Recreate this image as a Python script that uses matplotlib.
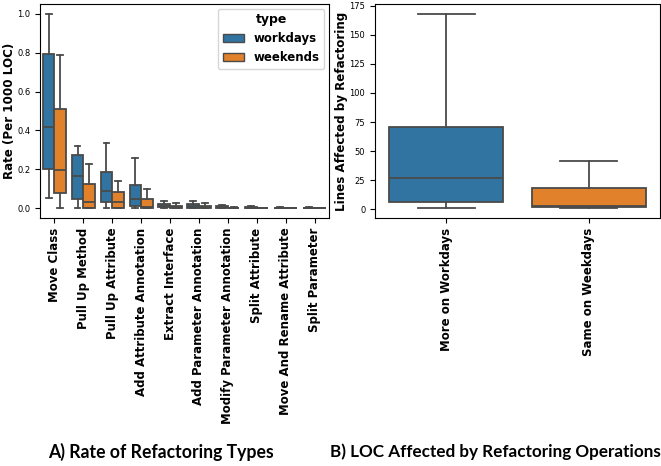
import matplotlib
matplotlib.use("Agg")
import matplotlib.pyplot as plt
from matplotlib.patches import Patch

# refactoring types (panel A)
types = ["Move Class", "Pull Up Method", "Pull Up Attribute",
         "Add Attribute Annotation", "Extract Interface",
         "Add Parameter Annotation", "Modify Parameter Annotation",
         "Split Attribute", "Move And Rename Attribute", "Split Parameter"]

# box stats: whislo, q1, median, q3, whishi
work_lo = [0.055, 0.0, 0.0, 0.0, 0.0, 0.0, 0.0, 0.0, 0.0, 0.0]
work_q1 = [0.20, 0.05, 0.03, 0.01, 0.004, 0.002, 0.0, 0.0, 0.0, 0.0]
work_med = [0.42, 0.168, 0.09, 0.048, 0.012, 0.010, 0.004, 0.003, 0.001, 0.001]
work_q3 = [0.795, 0.272, 0.185, 0.12, 0.020, 0.022, 0.010, 0.006, 0.003, 0.003]
work_hi = [1.0, 0.318, 0.335, 0.26, 0.035, 0.035, 0.018, 0.010, 0.005, 0.005]

wkend_lo = [0.0, 0.0, 0.0, 0.0, 0.0, 0.0, 0.0, 0.0, 0.0, 0.0]
wkend_q1 = [0.078, 0.0, 0.0, 0.002, 0.0, 0.0, 0.0, 0.0, 0.0, 0.0]
wkend_med = [0.197, 0.033, 0.03, 0.008, 0.005, 0.004, 0.0, 0.0, 0.0, 0.0]
wkend_q3 = [0.51, 0.125, 0.085, 0.048, 0.012, 0.012, 0.002, 0.001, 0.001, 0.001]
wkend_hi = [0.79, 0.225, 0.14, 0.10, 0.025, 0.027, 0.004, 0.002, 0.002, 0.002]

# panel B
groups = ["More on Workdays", "Same on Weekdays"]
loc_lo = [1, 1]
loc_q1 = [6, 2]
loc_med = [27, 3]
loc_q3 = [71, 18]
loc_hi = [168, 42]

blue = "#3274a1"
orange = "#e1812c"
gray = "#4a4a4a"


def make_stats(lo, q1, med, q3, hi):
    return [dict(whislo=a, q1=b, med=c, q3=d, whishi=e, fliers=[])
            for a, b, c, d, e in zip(lo, q1, med, q3, hi)]


def draw(ax, stats, pos, width, color):
    ax.bxp(stats, positions=pos, widths=width, patch_artist=True,
           showfliers=False, manage_ticks=False,
           boxprops=dict(facecolor=color, edgecolor=gray, linewidth=1.3),
           whiskerprops=dict(color=gray, linewidth=1.3),
           capprops=dict(color=gray, linewidth=1.3),
           medianprops=dict(color=gray, linewidth=1.3))


fig = plt.figure(figsize=(6.61, 4.66), dpi=100)

# A) rate of refactoring types
ax1 = fig.add_axes([40 / 661, 1 - 218 / 466, 289 / 661, 214 / 466])
x = list(range(len(types)))
draw(ax1, make_stats(work_lo, work_q1, work_med, work_q3, work_hi),
     [i - 0.2 for i in x], 0.4, blue)
draw(ax1, make_stats(wkend_lo, wkend_q1, wkend_med, wkend_q3, wkend_hi),
     [i + 0.2 for i in x], 0.4, orange)
ax1.set_xlim(-0.5, len(types) - 0.5)
ax1.set_ylim(-0.05, 1.05)
ax1.set_xticks(x)
ax1.set_xticklabels(types, rotation=90, fontsize=8.5, fontweight="bold")
ax1.tick_params(axis="y", labelsize=6)
ax1.set_ylabel("Rate (Per 1000 LOC)", fontsize=8.6, fontweight="bold", labelpad=1)
handles = [Patch(facecolor=blue, edgecolor=gray, label="workdays"),
           Patch(facecolor=orange, edgecolor=gray, label="weekends")]
leg = ax1.legend(handles=handles, title="type", loc="upper right",
                 prop=dict(weight="bold", size=8.5),
                 title_fontproperties=dict(weight="bold", size=9),
                 handlelength=1.8, borderaxespad=0.4)

# B) LOC affected by refactoring operations
ax2 = fig.add_axes([375 / 661, 1 - 218 / 466, 285 / 661, 214 / 466])
xb = list(range(len(groups)))
stats_b = make_stats(loc_lo, loc_q1, loc_med, loc_q3, loc_hi)
draw(ax2, stats_b[:1], [0], 0.8, blue)
draw(ax2, stats_b[1:], [1], 0.8, orange)
ax2.set_xlim(-0.5, 1.5)
ax2.autoscale(axis="y")
ax2.set_xticks(xb)
ax2.set_xticklabels(groups, rotation=90, fontsize=8.5, fontweight="bold")
ax2.tick_params(axis="y", labelsize=6)
ax2.set_ylabel("Lines Affected by Refactoring", fontsize=8.6, fontweight="bold",
               labelpad=1)

fig.text(161 / 661, 1 - 452 / 466, "A) Rate of Refactoring Types",
         ha="center", va="center", fontsize=12.7, fontweight="bold", family="Lato")
fig.text(330 / 661, 1 - 452 / 466, "B) LOC Affected by Refactoring Operations",
         ha="left", va="center", fontsize=12.3, fontweight="bold", family="Lato")

fig.savefig("out.png", dpi=100)
